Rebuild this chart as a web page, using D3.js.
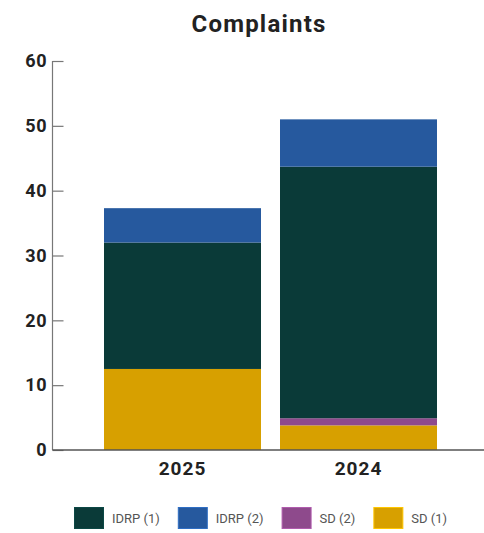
<!DOCTYPE html>
<html>
<head>
<meta charset="utf-8">
<script src="https://cdn.jsdelivr.net/npm/d3@7/dist/d3.min.js"></script>
<style>
  html, body { margin: 0; padding: 0; background: #fff; }
  svg { display: block; font-family: "Roboto", "DejaVu Sans", sans-serif; }
</style>
</head>
<body>
<svg id="chart" width="484" height="533"></svg>
<script>
// Complaint counts per year, stacked by complaint type
const categories = ["2025", "2024"];
const seriesNames = ["SD (1)", "SD (2)", "IDRP (1)", "IDRP (2)"];
const sd1   = [12.5, 3.8];
const sd2   = [0,    1.1];
const idrp1 = [19.5, 38.8];
const idrp2 = [5.3,  7.3];
const yTicks = [0, 10, 20, 30, 40, 50, 60];
const legendOrder = ["IDRP (1)", "IDRP (2)", "SD (2)", "SD (1)"];

const colors = {
  "IDRP (1)": "#0a3a38",
  "IDRP (2)": "#26599e",
  "SD (2)":   "#8e4a8c",
  "SD (1)":   "#d7a000"
};

const rows = categories.map((c, i) => ({
  category: c,
  "SD (1)": sd1[i],
  "SD (2)": sd2[i],
  "IDRP (1)": idrp1[i],
  "IDRP (2)": idrp2[i]
}));

const svg = d3.select("#chart");
const W = 484;

const y = d3.scaleLinear().domain([0, 60]).range([450, 61]);
const x = d3.scaleBand().domain(categories)
  .range([94.5, 446.5]).paddingInner(0.108).paddingOuter(0.054);

const stack = d3.stack().keys(seriesNames);
const layers = stack(rows);

// Title
svg.append("text")
  .attr("x", 259).attr("y", 32)
  .attr("text-anchor", "middle")
  .attr("font-size", 24).attr("font-weight", 700)
  .attr("letter-spacing", 1.2)
  .attr("fill", "#222")
  .text("Complaints");

// Bars
svg.append("g").selectAll("g")
  .data(layers)
  .join("g")
  .attr("fill", d => colors[d.key])
  .selectAll("rect")
  .data(d => d)
  .join("rect")
  .attr("x", d => x(d.data.category))
  .attr("width", x.bandwidth())
  .attr("y", d => y(d[1]))
  .attr("height", d => Math.max(0, y(d[0]) - y(d[1])));

// Y axis
const yAxis = svg.append("g")
  .attr("transform", "translate(52.5,0)")
  .call(d3.axisLeft(y).tickValues(yTicks).tickSize(-11).tickPadding(5));
yAxis.select(".domain").attr("stroke", "#777").attr("stroke-width", 1.2).attr("d", `M0,${y(60)}V${y(0)}`);
yAxis.selectAll(".tick line").attr("stroke", "#777").attr("stroke-width", 1.2);
yAxis.selectAll(".tick text")
  .attr("font-size", 18).attr("font-weight", 700).attr("fill", "#222")
  .attr("letter-spacing", 0.8)
  .attr("font-family", "Roboto, sans-serif");

// X axis baseline and labels
const xAxis = svg.append("g")
  .attr("transform", `translate(0,${y(0)})`)
  .call(d3.axisBottom(x).tickSize(0).tickPadding(12));
xAxis.select(".domain").attr("d", `M52.5,0H${W}`).attr("stroke", "#555").attr("stroke-width", 1.5);
xAxis.selectAll(".tick text")
  .attr("font-size", 19).attr("font-weight", 700).attr("fill", "#222")
  .attr("letter-spacing", 1)
  .attr("font-family", "Roboto, sans-serif");

// Legend
const legend = svg.append("g").attr("transform", "translate(74,507)");
let lx = 0;
legendOrder.forEach(name => {
  const g = legend.append("g").attr("transform", `translate(${lx},0)`);
  g.append("rect")
    .attr("x", 0.5).attr("y", 0.5).attr("width", 29).attr("height", 21)
    .attr("fill", colors[name])
    .attr("stroke", d3.color(colors[name]).brighter(0.6))
    .attr("stroke-width", 1);
  const t = g.append("text")
    .attr("x", 38).attr("y", 15.5)
    .attr("font-size", 13).attr("fill", "#555")
    .text(name);
  lx += 38 + t.node().getComputedTextLength() + 18;
});
</script>
</body>
</html>
